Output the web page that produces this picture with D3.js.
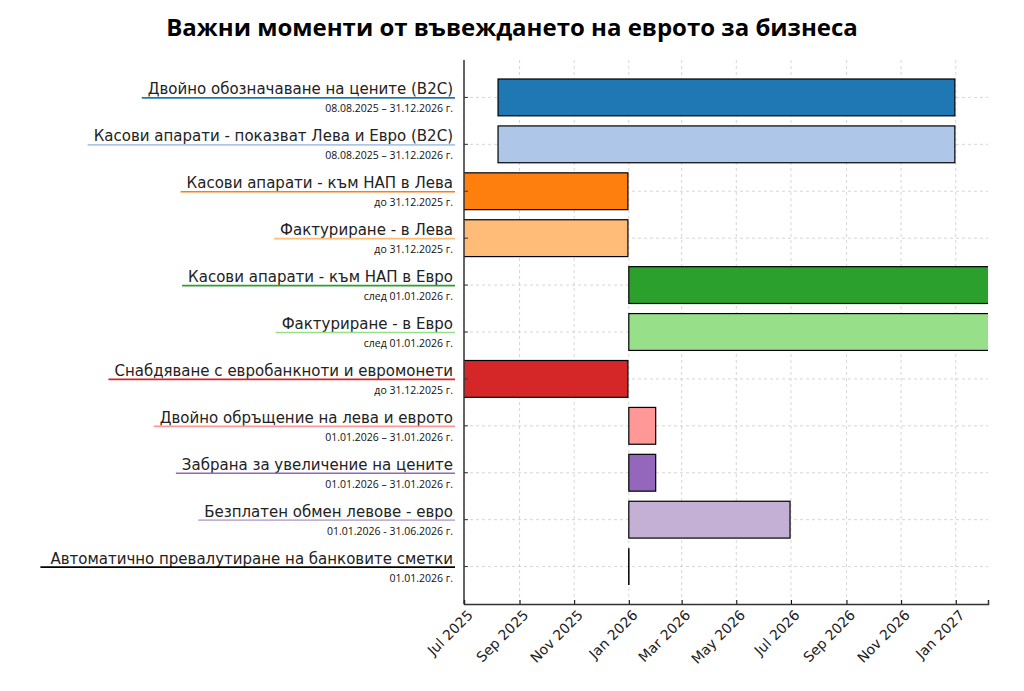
<!DOCTYPE html><html><head><meta charset="utf-8"><script src="https://cdn.jsdelivr.net/npm/d3@7"></script>
<style>body{margin:0;background:#fff}</style></head><body><svg id="c" width="1024" height="691"></svg>
<script>
const tasks=["Двойно обозначаване на цените (B2C)","Касови апарати - показват Лева и Евро (B2C)","Касови апарати - към НАП в Лева","Фактуриране - в Лева","Касови апарати - към НАП в Евро","Фактуриране - в Евро","Снабдяване с евробанкноти и евромонети","Двойно обръщение на лева и еврото","Забрана за увеличение на цените","Безплатен обмен левове - евро","Автоматично превалутиране на банковите сметки"];
const dateLabels=["08.08.2025 – 31.12.2026 г.","08.08.2025 – 31.12.2026 г.","до 31.12.2025 г.","до 31.12.2025 г.","след 01.01.2026 г.","след 01.01.2026 г.","до 31.12.2025 г.","01.01.2026 – 31.01.2026 г.","01.01.2026 – 31.01.2026 г.","01.01.2026 - 31.06.2026 г.","01.01.2026 г."];
const starts=["2025-08-08","2025-08-08","2025-01-01","2025-01-01","2026-01-01","2026-01-01","2025-01-01","2026-01-01","2026-01-01","2026-01-01","2026-01-01"];
const ends=["2026-12-31","2026-12-31","2025-12-31","2025-12-31","2027-12-31","2027-12-31","2025-12-31","2026-01-31","2026-01-31","2026-06-30","2026-01-01"];
const colors=["#1f77b4","#aec7e8","#ff7f0e","#ffbb78","#2ca02c","#98df8a","#d62728","#ff9896","#9467bd","#c5b0d5","#000000"];
const tickLabels=["Jul 2025","Sep 2025","Nov 2025","Jan 2026","Mar 2026","May 2026","Jul 2026","Sep 2026","Nov 2026","Jan 2027"];
const p=d3.timeParse("%Y-%m-%d");
const svg=d3.select("#c");
const L=464,R=988,T=60,B=604;
const x=d3.scaleTime().domain([p("2025-07-01"),p("2027-02-06")]).range([L,R]);
const y=d3.scaleBand().domain(tasks).range([79,585]).paddingInner(0.215).paddingOuter(0);
svg.append("text").attr("x",512).attr("y",36).attr("text-anchor","middle").attr("font-family","Open Sans").attr("font-weight","bold").attr("font-size",24).text("Важни моменти от въвеждането на еврото за бизнеса");
const tickDates=tickLabels.map(t=>d3.timeParse("%b %Y")(t));
const g=svg.append("g");
g.selectAll(".vg").data(tickDates).join("line").attr("x1",d=>x(d)).attr("x2",d=>x(d)).attr("y1",T).attr("y2",B).attr("stroke","#ccc").attr("stroke-dasharray","3,3").attr("stroke-width",0.8);
g.selectAll(".hg").data(tasks).join("line").attr("x1",L).attr("x2",R).attr("y1",d=>y(d)+y.bandwidth()/2).attr("y2",d=>y(d)+y.bandwidth()/2).attr("stroke","#ccc").attr("stroke-dasharray","3,3").attr("stroke-width",0.8);
const clip=svg.append("clipPath").attr("id","cl").append("rect").attr("x",L).attr("y",T).attr("width",R-L).attr("height",B-T);
const bars=svg.append("g").attr("clip-path","url(#cl)");
tasks.forEach((t,i)=>{
  const x0=x(p(starts[i])),x1=x(p(ends[i]));
  if(x1-x0<1){bars.append("line").attr("x1",x0).attr("x2",x0).attr("y1",y(t)).attr("y2",y(t)+y.bandwidth()).attr("stroke","#000").attr("stroke-width",1.5);}
  else bars.append("rect").attr("x",x0).attr("y",y(t)).attr("width",x1-x0).attr("height",y.bandwidth()).attr("fill",colors[i]).attr("stroke","#000").attr("stroke-width",1.2);
});
const xa=svg.append("g").attr("transform",`translate(0,${B})`).call(d3.axisBottom(x).tickValues(tickDates).tickSize(-4).tickFormat((d,i)=>tickLabels[i]));
xa.select(".domain").attr("stroke","#333").attr("stroke-width",1.5);
xa.selectAll("text").attr("font-family","DejaVu Sans").attr("font-size",14).attr("fill","#222").attr("text-anchor","end").attr("transform","rotate(-45)").attr("dx","-2").attr("dy","12");
svg.append("line").attr("x1",L).attr("x2",L).attr("y1",T).attr("y2",B).attr("stroke","#333").attr("stroke-width",1.5);
tasks.forEach((t,i)=>{
  const cy=y(t)+y.bandwidth()/2;
  svg.append("line").attr("x1",L).attr("x2",L+4).attr("y1",cy).attr("y2",cy).attr("stroke","#333");
  const tx=svg.append("text").attr("x",453).attr("y",cy-3).attr("text-anchor","end").attr("font-family","DejaVu Sans").attr("font-size",15).attr("fill","#222").text(t);
  const w=tx.node().getComputedTextLength();
  svg.append("line").attr("x1",453-w-(i==10?10:6)).attr("x2",455).attr("y1",cy+0.5).attr("y2",cy+0.5).attr("stroke",colors[i]).attr("stroke-width",1.6);
  svg.append("text").attr("x",453).attr("y",cy+15).attr("text-anchor","end").attr("font-family","Open Sans").attr("font-size",10.5).attr("fill","#111").text(dateLabels[i]);
});
</script></body></html>
